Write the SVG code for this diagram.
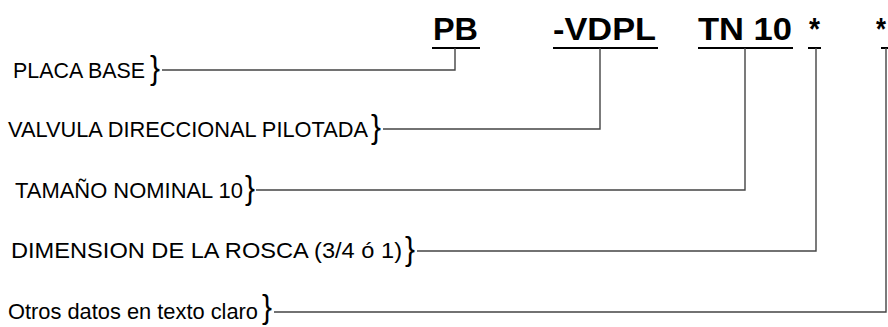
<svg xmlns="http://www.w3.org/2000/svg" width="888" height="327" viewBox="0 0 888 327">
<style>
.code{font-family:"Liberation Sans",Arial,sans-serif;font-weight:bold;font-size:32px;fill:#000}
.lbl{font-family:"Liberation Sans",Arial,sans-serif;font-size:22px;fill:#000}
.brace{font-family:"Liberation Sans",Arial,sans-serif;font-size:34px;fill:#000}
.ul{stroke:#000;stroke-width:2;fill:none}
.conn{stroke:#444;stroke-width:1.4;fill:none}
</style>
<rect width="888" height="327" fill="#fff"/>
<g id="code-pb"><text class="code" x="433" y="40" textLength="45" lengthAdjust="spacingAndGlyphs">PB</text><line class="ul" x1="432" y1="48" x2="480" y2="48"/></g>
<g id="code-vdpl"><text class="code" x="553" y="40" textLength="103" lengthAdjust="spacingAndGlyphs">-VDPL</text><line class="ul" x1="553" y1="48" x2="658" y2="48"/></g>
<g id="code-tn10"><text class="code" x="698" y="40" textLength="94" lengthAdjust="spacingAndGlyphs">TN 10</text><line class="ul" x1="698" y1="48" x2="793" y2="48"/></g>
<g id="code-star1"><text class="code" x="809" y="40" textLength="11" lengthAdjust="spacingAndGlyphs">*</text><line class="ul" x1="808" y1="48" x2="821" y2="48"/></g>
<g id="code-star2"><text class="code" x="876" y="40" textLength="10" lengthAdjust="spacingAndGlyphs">*</text><line class="ul" x1="881" y1="48" x2="888" y2="48"/></g>
<g id="label-placa"><text class="lbl" x="13" y="78" textLength="132" lengthAdjust="spacingAndGlyphs">PLACA BASE</text><text class="brace" x="150" y="79" textLength="10" lengthAdjust="spacingAndGlyphs">}</text></g>
<g id="label-valvula"><text class="lbl" x="8" y="137" textLength="360" lengthAdjust="spacingAndGlyphs">VALVULA DIRECCIONAL PILOTADA</text><text class="brace" x="371" y="138" textLength="10" lengthAdjust="spacingAndGlyphs">}</text></g>
<g id="label-tamano"><text class="lbl" x="15" y="198" textLength="228" lengthAdjust="spacingAndGlyphs">TAMAÑO NOMINAL 10</text><text class="brace" x="245" y="199" textLength="10" lengthAdjust="spacingAndGlyphs">}</text></g>
<g id="label-dimension"><text class="lbl" x="11" y="258" textLength="391" lengthAdjust="spacingAndGlyphs">DIMENSION DE LA ROSCA (3/4 ó 1)</text><text class="brace" x="405" y="260" textLength="10" lengthAdjust="spacingAndGlyphs">}</text></g>
<g id="label-otros"><text class="lbl" x="8" y="319" textLength="250" lengthAdjust="spacingAndGlyphs">Otros datos en texto claro</text><text class="brace" x="262" y="318" textLength="10" lengthAdjust="spacingAndGlyphs">}</text></g>
<g id="connectors">
<polyline class="conn" points="162,70 455,70 455,48"/>
<polyline class="conn" points="383,129 600,129 600,48"/>
<polyline class="conn" points="256,190 745,190 745,48"/>
<polyline class="conn" points="417,251 816,251 816,48"/>
<polyline class="conn" points="274,312 886,312 886,48"/>
</g>
</svg>
